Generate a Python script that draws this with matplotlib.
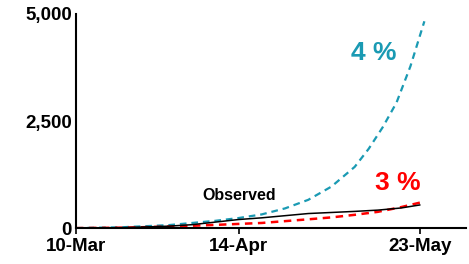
import matplotlib
matplotlib.use("Agg")
import matplotlib.pyplot as plt

plt.rcParams['font.family'] = ['Liberation Sans', 'DejaVu Sans']

# Days since 10-Mar
tick_days = [0, 35, 74]
tick_labels = ["10-Mar", "14-Apr", "23-May"]
y_ticks = [0, 2500, 5000]
y_tick_labels = ["0", "2,500", "5,000"]

obs_days = [0, 10, 20, 25, 30, 35, 40, 45, 50, 55, 60, 65, 70, 74]
obs_vals = [0, 10, 45, 80, 140, 200, 240, 290, 340, 365, 390, 420, 470, 540]

g4_days = [0, 10, 20, 30, 35, 40, 45, 50, 55, 60, 63, 66, 69, 72, 75]
g4_vals = [0, 20, 70, 170, 235, 320, 460, 660, 970, 1430, 1850, 2350, 2930, 3780, 4830]

g3_days = [0, 10, 20, 30, 40, 50, 55, 60, 65, 70, 75]
g3_vals = [0, 10, 35, 75, 120, 205, 250, 310, 380, 490, 620]

teal = '#1A9AB3'
red = '#FF0000'

fig = plt.figure(figsize=(4.69, 2.64), dpi=100)
ax = fig.add_axes([0.162, 0.136, 0.832, 0.811])

ax.plot(g4_days, g4_vals, color=teal, lw=1.6, ls=(0, (3, 2.2)))
ax.plot(g3_days, g3_vals, color=red, lw=1.8, ls=(0, (3, 2.2)))
ax.plot(obs_days, obs_vals, color='black', lw=1.1)

ax.set_xlim(0, 84)
ax.set_ylim(0, 5000)
ax.set_xticks(tick_days)
ax.set_xticklabels(tick_labels, fontsize=13.5, fontweight='bold')
ax.set_yticks(y_ticks)
ax.set_yticklabels(y_tick_labels, fontsize=13.5, fontweight='bold')
ax.tick_params(axis='y', length=0, pad=3)
ax.tick_params(axis='x', length=4, width=1.2, pad=3, direction='out')
for lbl in ax.get_yticklabels():
    lbl.set_verticalalignment('center_baseline')

for s in ['top', 'right']:
    ax.spines[s].set_visible(False)
for s in ['left', 'bottom']:
    ax.spines[s].set_linewidth(1.5)

ax.text(35.2, 760, "Observed", fontsize=11.5, fontweight='bold', ha='center', va='center')
ax.text(69.3, 1050, "3 %", fontsize=19, fontweight='bold', color=red, ha='center', va='center')
ax.text(64, 4100, "4 %", fontsize=19, fontweight='bold', color=teal, ha='center', va='center')

fig.savefig("out.png", dpi=100)
